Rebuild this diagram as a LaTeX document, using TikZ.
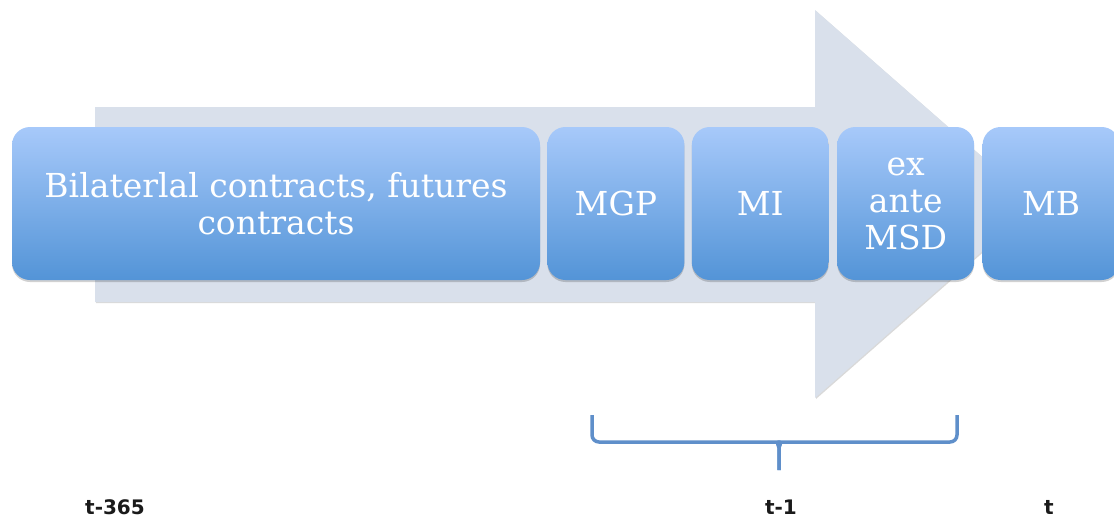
\documentclass[tikz,border=0pt]{standalone}
\usepackage{fontspec}
\setmainfont{DejaVu Serif}
\newfontfamily\labelfont{DejaVu Sans}
\usetikzlibrary{positioning,shadows}
\definecolor{arrowfill}{HTML}{D9E0EB}
\definecolor{boxtop}{HTML}{A7C9FA}
\definecolor{boxbot}{HTML}{5394D7}
\definecolor{bracecol}{HTML}{5F8FCA}
\definecolor{labelcol}{HTML}{1A1A1A}

\begin{document}
\begin{tikzpicture}[x=1pt,y=-1pt]
\tikzset{stage/.style={rounded corners=18pt,top color=boxtop,bottom color=boxbot,
  text=white,font=\fontsize{33}{37}\selectfont,align=center,minimum height=153pt,
  minimum width=137pt,inner sep=0pt,
  drop shadow={shadow xshift=0pt,shadow yshift=-2pt,opacity=.18,fill=black}}}
\tikzset{tlabel/.style={font=\labelfont\bfseries\fontsize{20}{24}\selectfont,text=labelcol}}
\useasboundingbox (0,0) rectangle (1114,517);
% big background arrow
\fill[arrowfill,drop shadow={shadow xshift=1pt,shadow yshift=-1pt,opacity=.15,fill=black}]
  (95,107) -- (815,107) -- (815,10) -- (1036,204) -- (815,398) -- (815,302) -- (95,302) -- cycle;

% stages
\node[stage,minimum width=528pt] (b1) at (276,203.5) {Bilaterlal contracts, futures\\contracts};
\node[stage,right=7pt of b1] (b2) {MGP};
\node[stage,right=7pt of b2] (b3) {MI};
\node[stage,right=8pt of b3] (b4) {ex\\ante\\MSD};
\node[stage,right=8pt of b4] (b5) {MB};

% brace
\coordinate (brl) at (592,415);
\coordinate (brr) at (957,415);
\coordinate (brtip) at (779,470);
\draw[bracecol,line width=3.5pt,rounded corners=7pt]
  (brl) -- (592,442) -- (771,442) to[out=0,in=90] (brtip |- 0,454) -- (brtip);
\draw[bracecol,line width=3.5pt,rounded corners=7pt]
  (brr) -- (957,442) -- (787,442) to[out=180,in=90] (brtip |- 0,454) -- (brtip);

% time labels
\node[tlabel] (t365) at (115,507) {t-365};
\node[tlabel] (t1) at (781,507) {t-1};
\node[tlabel] (t0) at (1049,507) {t};
\end{tikzpicture}
\end{document}
